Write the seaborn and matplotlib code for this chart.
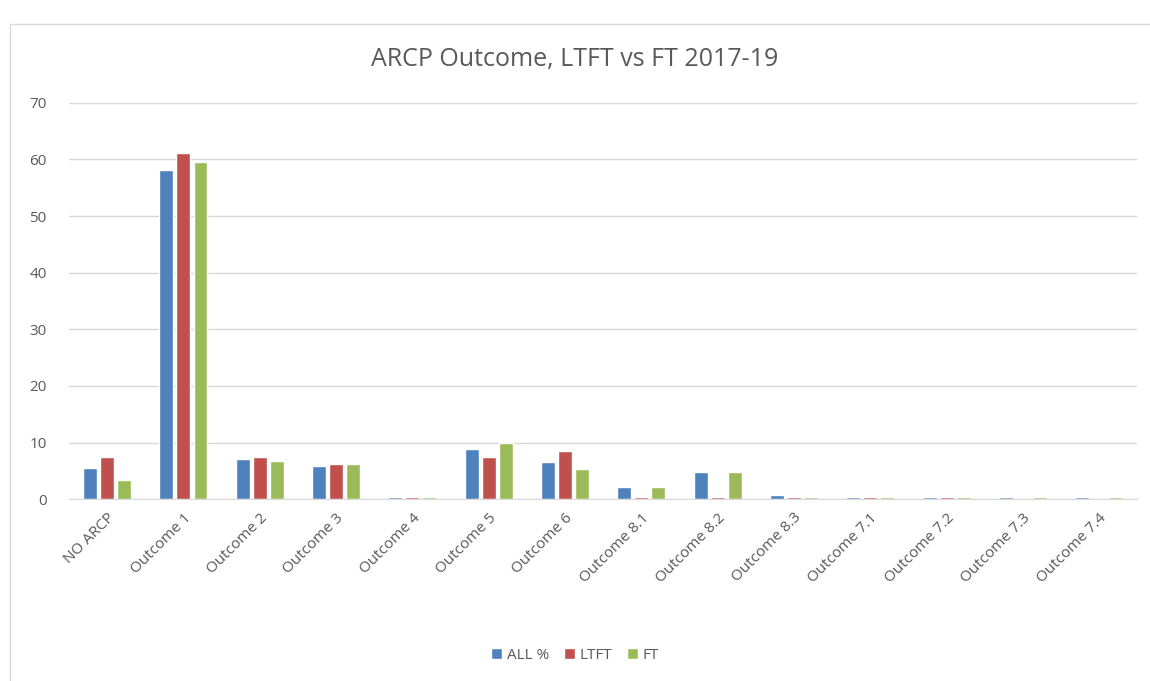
import pandas as pd
import matplotlib.pyplot as plt
import seaborn as sns
from matplotlib.patches import Rectangle

# datos
categorias = ["NO ARCP", "Outcome 1", "Outcome 2", "Outcome 3", "Outcome 4", "Outcome 5",
              "Outcome 6", "Outcome 8.1", "Outcome 8.2", "Outcome 8.3", "Outcome 7.1",
              "Outcome 7.2", "Outcome 7.3", "Outcome 7.4"]
all_pct = [5.5, 58.2, 7.1, 5.8, 0.3, 8.8, 6.5, 2.1, 4.8, 0.7, 0.3, 0.3, 0.3, 0.3]
ltft = [7.4, 61.2, 7.5, 6.2, 0.3, 7.5, 8.5, 0.3, 0.3, 0.3, 0.3, 0.3, 0.0, 0.0]
ft = [3.4, 59.5, 6.8, 6.2, 0.3, 10.0, 5.4, 2.1, 4.8, 0.3, 0.3, 0.3, 0.3, 0.3]
series = ["ALL %", "LTFT", "FT"]
colores = ["#4F81BD", "#C0504D", "#9BBB59"]

df = pd.DataFrame({"cat": categorias, "ALL %": all_pct, "LTFT": ltft, "FT": ft})
df = df.melt(id_vars="cat", var_name="serie", value_name="valor")

sns.set_style("white")
plt.rcParams["font.family"] = ["Open Sans", "DejaVu Sans"]

fig = plt.figure(figsize=(11.5, 6.81), dpi=100)
ax = fig.add_axes([0.06, 0.267, 0.929, 0.582])

sns.barplot(data=df, x="cat", y="valor", hue="serie", hue_order=series,
            palette=colores, width=0.67, gap=0.18, ax=ax, saturation=1, legend=True)

ax.set_ylim(0, 70)
ax.set_yticks(range(0, 71, 10))
ax.yaxis.grid(True, color="#d9d9d9", linewidth=1)
ax.set_axisbelow(True)
for s in ["top", "right", "left"]:
    ax.spines[s].set_visible(False)
ax.spines["bottom"].set_color("#d9d9d9")
ax.set_xlabel("")
ax.set_ylabel("")
ax.tick_params(axis="both", length=0, colors="#595959", labelsize=11)
plt.setp(ax.get_xticklabels(), rotation=45, ha="right", rotation_mode="anchor")
ax.tick_params(axis="x", pad=8)
ax.tick_params(axis="y", pad=16)

fig.text(0.5, 0.912, "ARCP Outcome, LTFT vs FT 2017-19", ha="center", va="center",
         fontsize=18, color="#595959")

ax.legend(loc="center", bbox_to_anchor=(0.5, 0.038), bbox_transform=fig.transFigure,
          ncol=3, frameon=False, fontsize=11, handlelength=0.7, handleheight=0.7,
          handletextpad=0.3, columnspacing=1.0, labelcolor="#595959")

fig.patches.append(Rectangle((0.009, -0.01), 1.0, 0.975, transform=fig.transFigure,
                             fill=False, edgecolor="#d9d9d9", linewidth=1))

fig.savefig("out.png", dpi=100)
